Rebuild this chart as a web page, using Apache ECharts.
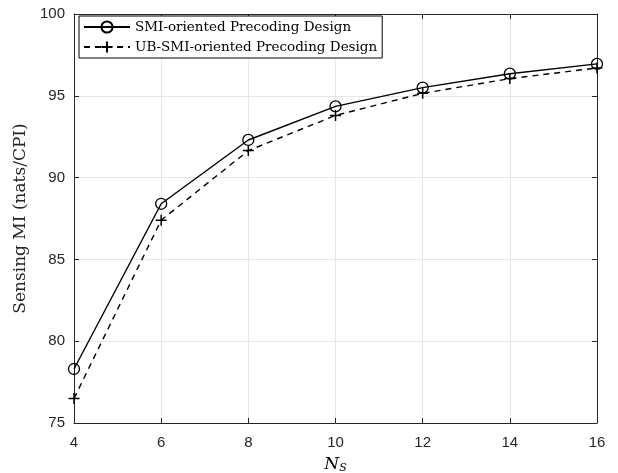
<!DOCTYPE html>
<html>
<head>
<meta charset="utf-8">
<script src="https://cdn.jsdelivr.net/npm/echarts@6/dist/echarts.min.js"></script>
<style>
html, body { margin: 0; padding: 0; background: #fff; }
#main { width: 618px; height: 473px; }
</style>
</head>
<body>
<div id="main"></div>
<script>
var ns = [4, 6, 8, 10, 12, 14, 16];
var smiValues = [78.3, 88.4, 92.3, 94.35, 95.5, 96.35, 96.95];
var ubSmiValues = [76.5, 87.4, 91.65, 93.8, 95.15, 96.05, 96.7];

var plusPath = 'path://M-1,0L1,0M0,-1L0,1';
var serif = '"DejaVu Serif", "Liberation Serif", serif';
var sans = '"Liberation Sans", Arial, sans-serif';

function pairs(xs, ys) {
    return xs.map(function (x, i) { return [x, ys[i]]; });
}

var myChart = echarts.init(document.getElementById('main'));

var axisLine = { show: true, lineStyle: { color: '#262626', width: 1 } };
var tick = { show: true, inside: true, length: 5, lineStyle: { color: '#262626' } };

var option = {
    backgroundColor: '#fff',
    animation: false,
    grid: { left: 74, right: 21, top: 14, bottom: 50, containLabel: false, outerBoundsMode: 'none' },
    legend: {
        left: 79, top: 16,
        orient: 'vertical',
        backgroundColor: '#fff',
        borderColor: '#000',
        borderWidth: 1,
        padding: [4, 5, 4, 4],
        itemGap: 6,
        itemWidth: 46,
        itemHeight: 14,
        textStyle: { fontFamily: serif, fontSize: 13.5, color: '#000' },
        data: ['SMI-oriented Precoding Design', 'UB-SMI-oriented Precoding Design']
    },
    xAxis: [
        {
            type: 'value', min: 4, max: 16, interval: 2,
            name: '{i|N}{s|S}',
            nameLocation: 'middle', nameGap: 32,
            nameTextStyle: {
                rich: {
                    i: { fontFamily: serif, fontStyle: 'italic', fontSize: 17, color: '#000' },
                    s: { fontFamily: serif, fontStyle: 'italic', fontSize: 11, color: '#000', verticalAlign: 'bottom', padding: [8, 0, 0, 0] }
                }
            },
            axisLine: axisLine, axisTick: tick,
            axisLabel: { fontFamily: sans, fontSize: 15, color: '#262626', margin: 12 },
            splitLine: { show: true, lineStyle: { color: '#e6e6e6', width: 1 } }
        },
        {
            type: 'value', min: 4, max: 16, interval: 2, position: 'top',
            axisLine: axisLine, axisTick: tick,
            axisLabel: { show: false }, splitLine: { show: false }
        }
    ],
    yAxis: [
        {
            type: 'value', min: 75, max: 100, interval: 5,
            name: 'Sensing MI (nats/CPI)',
            nameLocation: 'middle', nameGap: 37,
            nameTextStyle: { fontFamily: serif, fontSize: 17, color: '#262626' },
            axisLine: axisLine, axisTick: tick,
            axisLabel: { fontFamily: sans, fontSize: 15, color: '#262626', margin: 9 },
            splitLine: { show: true, lineStyle: { color: '#e6e6e6', width: 1 } }
        },
        {
            type: 'value', min: 75, max: 100, interval: 5, position: 'right',
            axisLine: axisLine, axisTick: tick,
            axisLabel: { show: false }, splitLine: { show: false }
        }
    ],
    series: [
        {
            name: 'SMI-oriented Precoding Design',
            type: 'line',
            data: pairs(ns, smiValues),
            symbol: 'circle', symbolSize: 11,
            showAllSymbol: true,
            lineStyle: { color: '#000', width: 1.4, type: 'solid' },
            itemStyle: { color: 'rgba(0,0,0,0)', borderColor: '#000', borderWidth: 1.3 },
            z: 3
        },
        {
            name: 'UB-SMI-oriented Precoding Design',
            type: 'line',
            data: pairs(ns, ubSmiValues),
            symbol: plusPath, symbolSize: 11,
            showAllSymbol: true,
            lineStyle: { color: '#000', width: 1.4, type: [6, 5] },
            itemStyle: { color: 'rgba(0,0,0,0)', borderColor: '#000', borderWidth: 1.5 },
            z: 2
        }
    ]
};

myChart.setOption(option);
window.addEventListener('resize', function () { myChart.resize(); });
</script>
</body>
</html>
